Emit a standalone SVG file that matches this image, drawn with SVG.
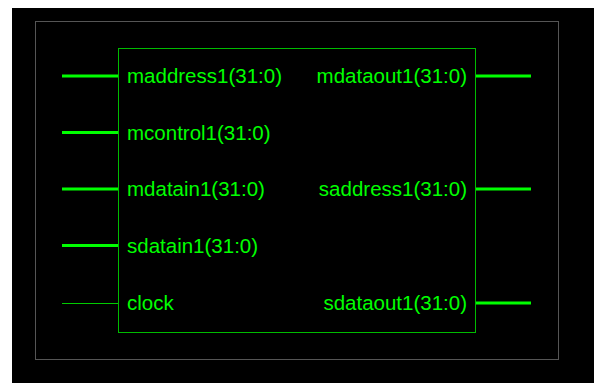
<svg xmlns="http://www.w3.org/2000/svg" width="594" height="383" viewBox="0 0 594 383">
<style>
text{font-family:"Liberation Sans",Arial,sans-serif;font-size:20.5px;fill:#00ff00}
.r{text-anchor:end}
.bus{stroke:#00ff00;stroke-width:3}
.wire{stroke:#00cc00;stroke-width:1}
</style>
<rect x="0" y="0" width="594" height="383" fill="#ffffff"/>
<rect x="12" y="8" width="582" height="375" fill="#000000"/>
<rect x="35.5" y="21.5" width="523" height="338" fill="none" stroke="#555555" stroke-width="1"/>
<g id="connectors">
<line class="bus" x1="62" y1="76" x2="118" y2="76"/>
<line class="bus" x1="62" y1="132.5" x2="118" y2="132.5"/>
<line class="bus" x1="62" y1="189" x2="118" y2="189"/>
<line class="bus" x1="62" y1="245.5" x2="118" y2="245.5"/>
<line class="wire" x1="62" y1="303.5" x2="118" y2="303.5"/>
<line class="bus" x1="476" y1="76" x2="531" y2="76"/>
<line class="bus" x1="476" y1="189" x2="531" y2="189"/>
<line class="bus" x1="476" y1="303" x2="531" y2="303"/>
</g>
<g id="block">
<rect x="118.5" y="48.5" width="357" height="284" fill="none" stroke="#00bb00" stroke-width="1"/>
<text x="127" y="83">maddress1(31:0)</text>
<text x="127" y="139.5">mcontrol1(31:0)</text>
<text x="127" y="196">mdatain1(31:0)</text>
<text x="127" y="252.5">sdatain1(31:0)</text>
<text x="127" y="310">clock</text>
<text class="r" x="467" y="83">mdataout1(31:0)</text>
<text class="r" x="467" y="196">saddress1(31:0)</text>
<text class="r" x="467" y="310">sdataout1(31:0)</text>
</g>
</svg>
